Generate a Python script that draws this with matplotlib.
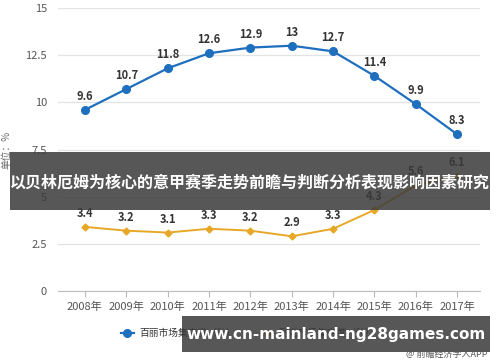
import matplotlib.pyplot as plt
import matplotlib.patches as mpatches

plt.rcParams['font.family'] = ['Noto Sans CJK SC', 'DejaVu Sans']

years = ['2008年', '2009年', '2010年', '2011年', '2012年',
         '2013年', '2014年', '2015年', '2016年', '2017年']
belle = [9.6, 10.7, 11.8, 12.6, 12.9, 13, 12.7, 11.4, 9.9, 8.3]
nike = [3.4, 3.2, 3.1, 3.3, 3.2, 2.9, 3.3, 4.3, 5.6, 6.1]
series_names = ['百丽市场集中度（%）', '耐克市场集中度（%）']
yticks = [0, 2.5, 5, 7.5, 10, 12.5, 15]

title = '以贝林厄姆为核心的意甲赛季走势前瞻与判断分析表现影响因素研究'
site = 'www.cn-mainland-ng28games.com'
source = '@ 前瞻经济学人APP'

blue = '#1f6fbf'
gold = '#e6a826'

fig = plt.figure(figsize=(5, 3.62), dpi=100)
ax = fig.add_axes([0.116, 0.196, 0.844, 0.782])

x = list(range(len(years)))
ax.plot(x, belle, color=blue, lw=1.6, marker='o', ms=5.5, zorder=3,
        label=series_names[0])
ax.plot(x, nike, color=gold, lw=1.4, marker='D', ms=3.5, zorder=3,
        label=series_names[1])

for xi, v in zip(x, belle):
    ax.annotate(f'{v:g}', (xi, v), xytext=(0, 5), textcoords='offset points',
                ha='center', va='bottom', fontsize=8, fontweight='bold', color='#333333')
for xi, v in zip(x, nike):
    ax.annotate(f'{v:g}', (xi, v), xytext=(0, 5), textcoords='offset points',
                ha='center', va='bottom', fontsize=8, fontweight='bold', color='#333333')

ax.set_xlim(-0.65, 9.55)
ax.set_ylim(0, 15)
ax.set_yticks(yticks)
ax.set_yticklabels([f'{t:g}' for t in yticks])
ax.set_xticks(x)
ax.set_xticklabels(years)
ax.tick_params(axis='y', length=0, labelsize=8, labelcolor='#555555', pad=8)
ax.tick_params(axis='x', length=4, color='#bbbbbb', labelsize=8, labelcolor='#555555')
ax.grid(axis='y', color='#e3e3e3', lw=0.9)
ax.set_axisbelow(True)
for s in ['top', 'right', 'left']:
    ax.spines[s].set_visible(False)
ax.spines['bottom'].set_color('#bbbbbb')
ax.set_ylabel('单位：%', fontsize=7, color='#666666', labelpad=10)

ax.legend(loc='upper center', bbox_to_anchor=(0.45, -0.1), ncol=2, frameon=False,
          fontsize=7, handlelength=1.4, handletextpad=0.5, columnspacing=2.5,
          labelcolor='#333333')

# overlay banners
fig.patches.append(mpatches.Rectangle((0.02, 1 - 210 / 362), 0.96, 58 / 362,
                                      transform=fig.transFigure, facecolor='#3a3a3a',
                                      alpha=0.85, zorder=10))
fig.text(0.5, 1 - 183 / 362, title, ha='center', va='center', color='white',
         fontsize=11.5, fontweight='bold', zorder=11)
fig.patches.append(mpatches.Rectangle((0.364, 1 - 352 / 362), 0.616, 36 / 362,
                                      transform=fig.transFigure, facecolor='#3a3a3a',
                                      alpha=0.85, zorder=10))
fig.text(0.672, 1 - 334 / 362, site, ha='center', va='center', color='white',
         fontsize=11, fontweight='bold', family='DejaVu Sans', zorder=11)
fig.text(0.975, 1 - 354 / 362, source, ha='right', va='center', color='#555555',
         fontsize=6.5, zorder=11)

fig.savefig('out.png', dpi=100)
